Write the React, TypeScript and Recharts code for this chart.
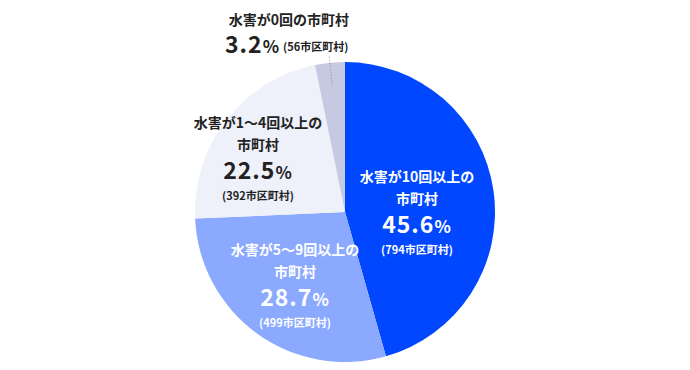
import { Pie, PieChart, Cell } from 'recharts';

const titleLines = [
  ['水害が10回以上の', '市町村'],
  ['水害が5～9回以上の', '市町村'],
  ['水害が1～4回以上の', '市町村'],
  ['水害が0回の市町村'],
];
const shares = [45.6, 28.7, 22.5, 3.2];
const counts = [794, 499, 392, 56];

const COLORS = ['#0047ff', '#8aa9ff', '#eef0fa', '#c6c9e2'];
const TEXT = ['#ffffff', '#ffffff', '#222222', '#222222'];
const FONT = '"Noto Sans CJK JP", "Noto Sans", sans-serif';

// label block anchor (center x, percent baseline) relative to the pie centre
const LABEL_POS = [
  { dx: 72, dy: 21 },
  { dx: -50, dy: 94 },
  { dx: -87, dy: -33 },
];

const data = shares.map((v, i) => ({ name: titleLines[i].join(''), value: v, count: counts[i] }));

function renderLabel(props: any) {
  const { cx, cy, midAngle, outerRadius, index } = props;
  const color = TEXT[index];
  if (index === 3) {
    const rad = (-midAngle * Math.PI) / 180;
    const r1 = outerRadius - 24;
    const r2 = outerRadius + 6;
    return (
      <g fontFamily={FONT} fontWeight="bold" fill={color}>
        <line
          x1={cx + r2 * Math.cos(rad)}
          y1={cy + r2 * Math.sin(rad)}
          x2={cx + r1 * Math.cos(rad)}
          y2={cy + r1 * Math.sin(rad)}
          stroke="#888"
          strokeWidth={1}
          strokeDasharray="1 2"
        />
        <text x={cx - 56} y={cy - 187} textAnchor="middle" fontSize={14}>
          {titleLines[3][0]}
        </text>
        <text x={cx - 120} y={cy - 159} textAnchor="start" fontSize={23} letterSpacing={1}>
          {shares[3].toFixed(1)}
          <tspan fontSize={17}>%</tspan>
        </text>
        <text x={cx - 62} y={cy - 161} textAnchor="start" fontSize={11}>
          ({counts[3]}市区町村)
        </text>
      </g>
    );
  }
  const p = LABEL_POS[index];
  const x = cx + p.dx;
  const y = cy + p.dy;
  return (
    <g fontFamily={FONT} fontWeight="bold" fill={color} textAnchor="middle">
      <text x={x} y={y - 51} fontSize={14}>
        {titleLines[index][0]}
      </text>
      <text x={x} y={y - 29} fontSize={14}>
        {titleLines[index][1]}
      </text>
      <text x={x} y={y} fontSize={23} letterSpacing={1}>
        {shares[index].toFixed(1)}
        <tspan fontSize={17}>%</tspan>
      </text>
      <text x={x} y={y + 21} fontSize={11}>
        ({counts[index]}市区町村)
      </text>
    </g>
  );
}

export default function App() {
  return (
    <div style={{ position: 'absolute', left: 0, top: 0, background: '#fff' }}>
      <PieChart width={690} height={370} margin={{ top: 0, right: 0, bottom: 0, left: 0 }}>
        <Pie
          data={data}
          dataKey="value"
          cx={345}
          cy={212}
          outerRadius={150}
          startAngle={90}
          endAngle={-270}
          stroke="none"
          label={renderLabel}
          labelLine={false}
          isAnimationActive={false}
        >
          {data.map((_, i) => (
            <Cell key={i} fill={COLORS[i]} />
          ))}
        </Pie>
      </PieChart>
    </div>
  );
}
